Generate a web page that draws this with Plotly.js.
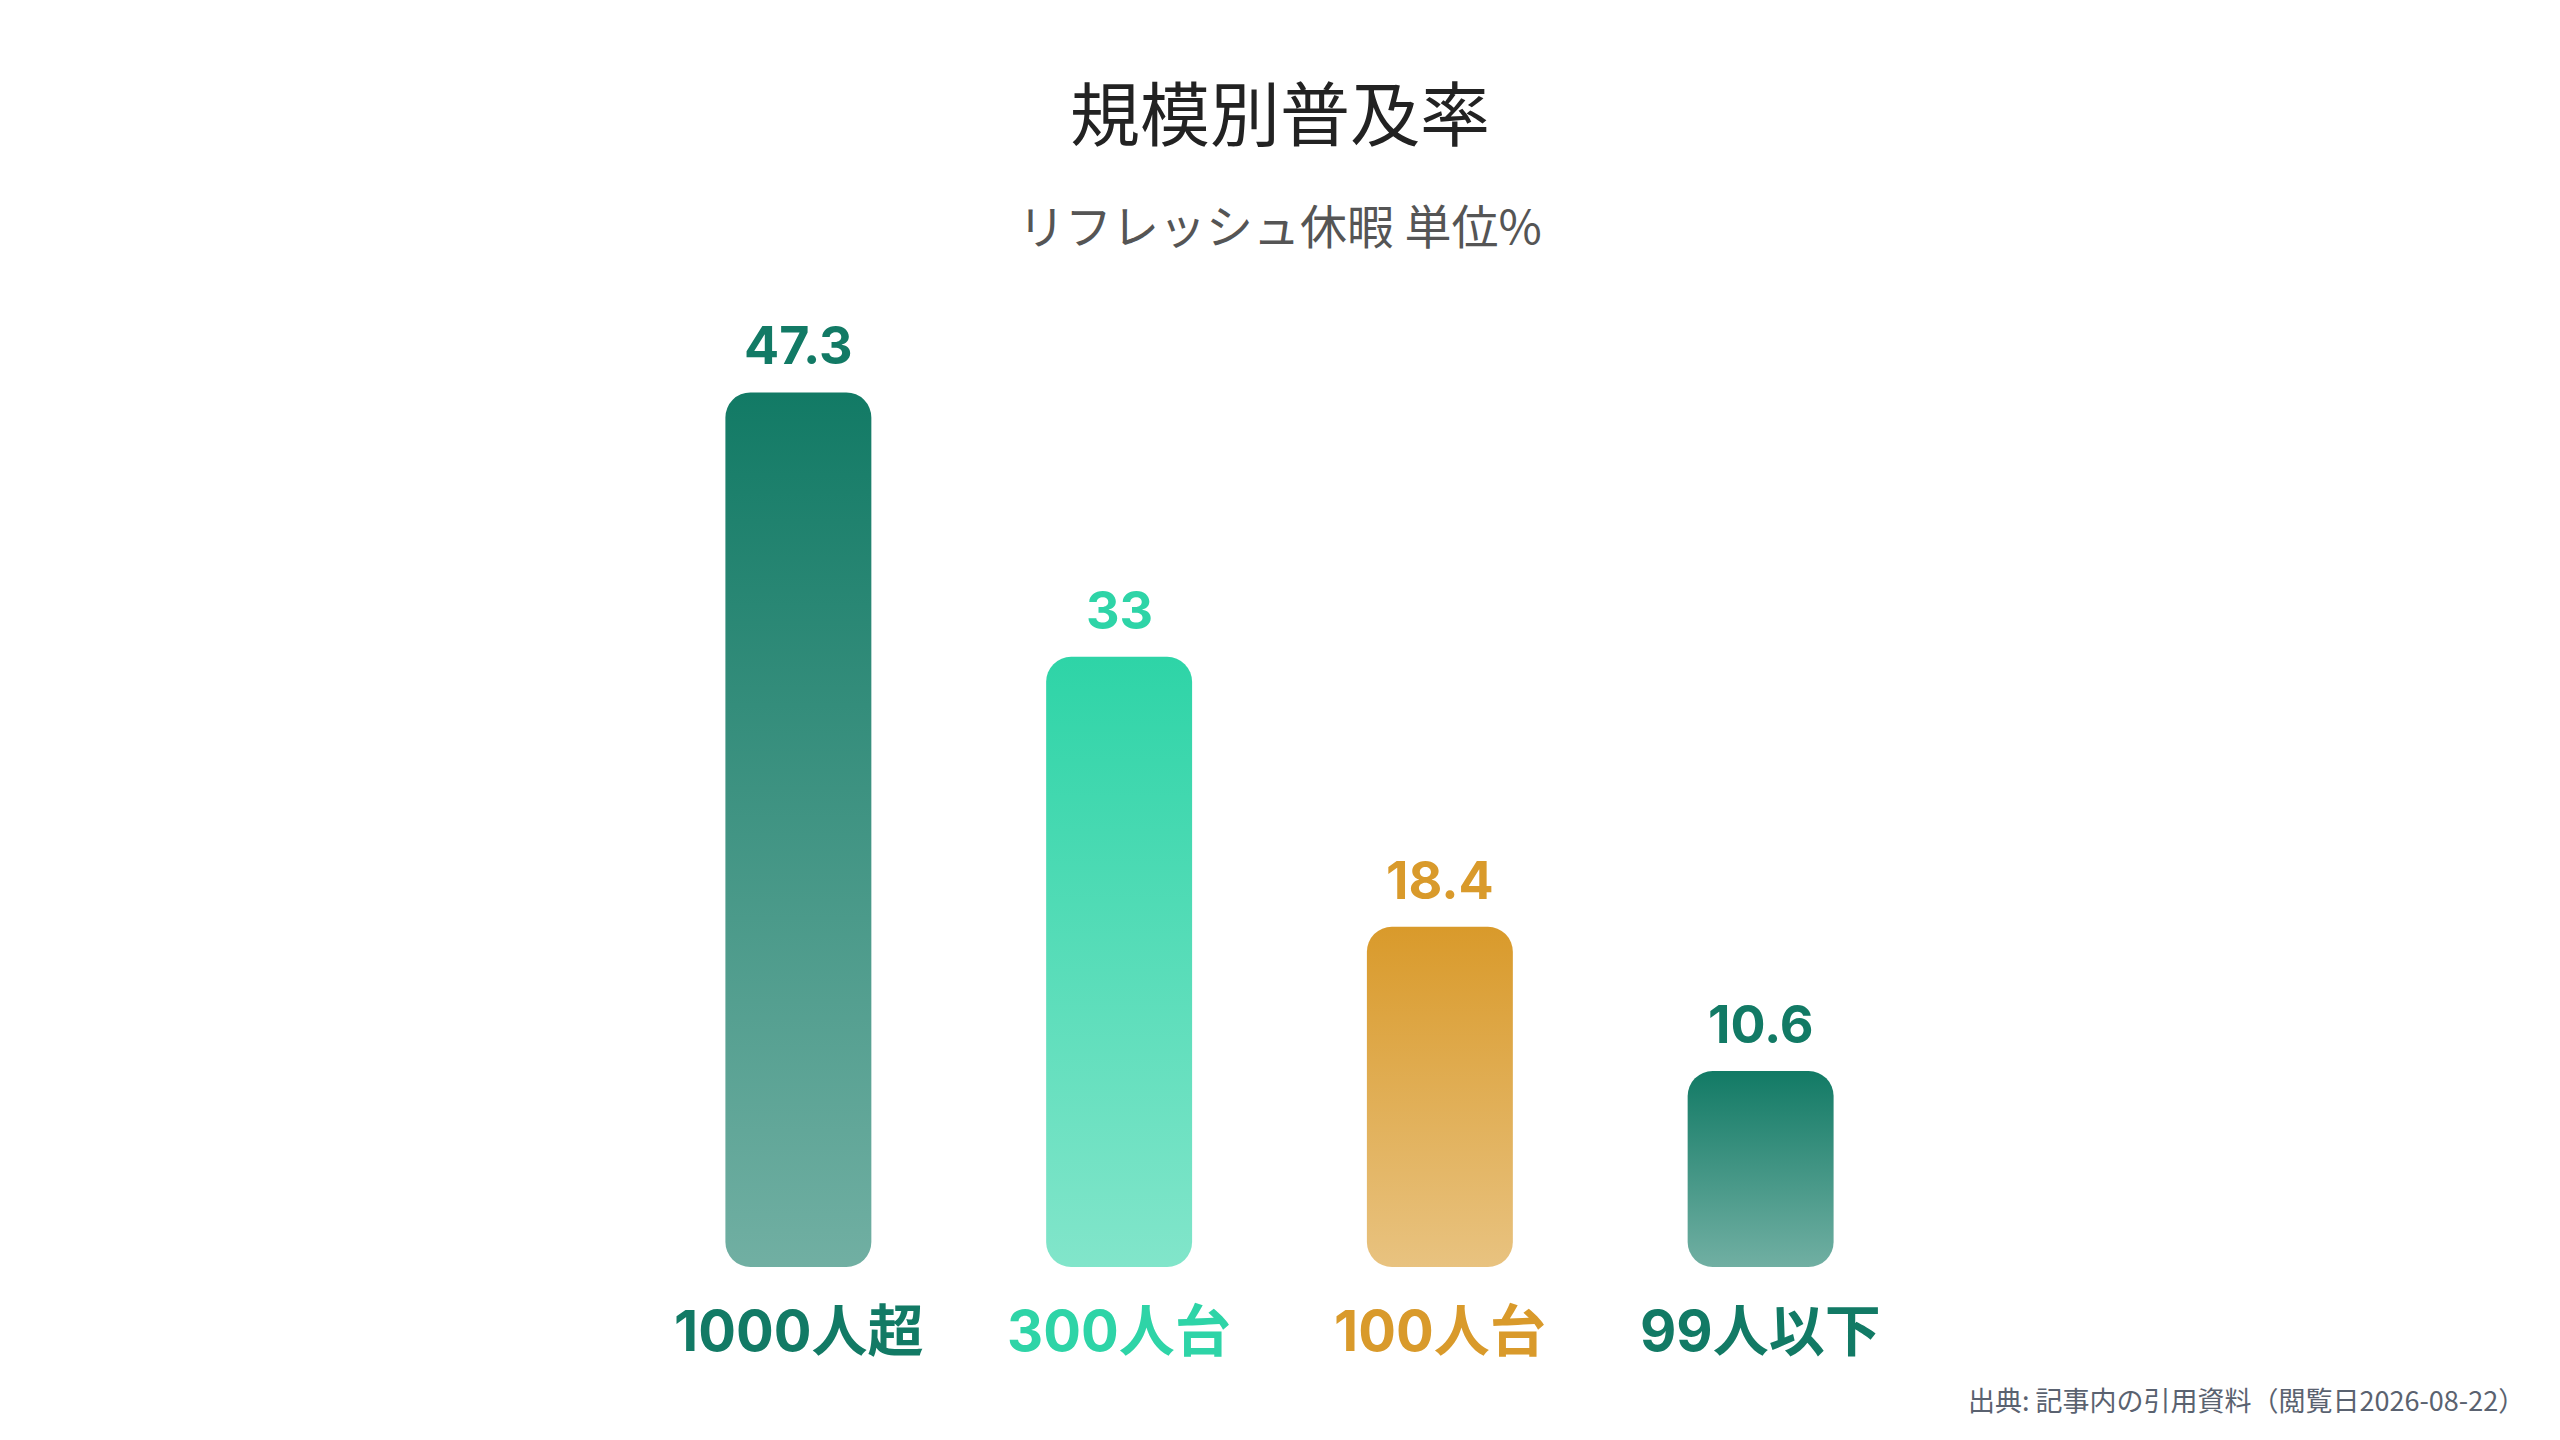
<!DOCTYPE html>
<html>
<head>
<meta charset="utf-8">
<script src="https://cdn.plot.ly/plotly-3.0.1.min.js"></script>
<style>
  html, body { margin: 0; padding: 0; background: #ffffff; }
  #chart { width: 2560px; height: 1440px; }
</style>
</head>
<body>
<div id="chart"></div>
<script>
// ---- data ----
const categories = ['1000人超', '300人台', '100人台', '99人以下'];
const values = [47.3, 33, 18.4, 10.6];
const valueLabels = ['47.3', '33', '18.4', '10.6'];
const barColors = ['#127A65', '#2ED4A7', '#D99A2B', '#127A65'];
const chartTitle = '規模別普及率';
const chartSubtitle = 'リフレッシュ休暇 単位%';
const sourceNote = '出典: 記事内の引用資料（閲覧日2026-08-22）';

const latinBold = 'Inter, "Noto Sans CJK JP", sans-serif';
const cjk = '"Noto Sans CJK JP", "Noto Sans", sans-serif';

const trace = {
  type: 'bar',
  x: categories,
  y: values,
  width: 0.455,
  marker: { color: barColors, cornerradius: 25, line: { width: 0 } },
  hoverinfo: 'skip',
  showlegend: false
};

const annotations = [];
categories.forEach((c, i) => {
  annotations.push({
    x: c, y: values[i], xref: 'x', yref: 'y',
    text: '<b>' + valueLabels[i] + '</b>',
    showarrow: false, yanchor: 'bottom', xanchor: 'center', yshift: 13,
    font: { family: latinBold, size: 52, color: barColors[i] }
  });
  annotations.push({
    x: c, y: 0, xref: 'x', yref: 'y',
    text: '<b>' + c + '</b>',
    showarrow: false, yanchor: 'top', xanchor: 'center', yshift: -28,
    font: { family: latinBold, size: 56, color: barColors[i] }
  });
});
annotations.push({
  x: 0.5, y: 1.085, xref: 'paper', yref: 'paper',
  text: chartSubtitle, showarrow: false, xanchor: 'center', yanchor: 'middle',
  font: { family: cjk, size: 47, color: '#555555' }
});
annotations.push({
  x: 1.472, y: -0.138, xref: 'paper', yref: 'paper',
  text: sourceNote, showarrow: false, xanchor: 'right', yanchor: 'middle',
  font: { family: cjk, size: 27, color: '#5A6270' }
});

const layout = {
  width: 2560, height: 1440,
  paper_bgcolor: '#ffffff', plot_bgcolor: '#ffffff',
  margin: { l: 638, r: 639, t: 305, b: 173, pad: 0 },
  title: {
    text: chartTitle,
    x: 0.5, xref: 'container', xanchor: 'center',
    y: 1 - 116 / 1440, yref: 'container', yanchor: 'middle',
    font: { family: cjk, size: 70, color: '#222222' }
  },
  xaxis: {
    type: 'category', range: [-0.5, 3.5],
    showticklabels: false, showgrid: false, zeroline: false, showline: false, ticks: ''
  },
  yaxis: {
    range: [0, 47.3 * 1.1], visible: false, showgrid: false, zeroline: false
  },
  annotations: annotations,
  showlegend: false
};

Plotly.newPlot('chart', [trace], layout, { displayModeBar: false, staticPlot: true }).then(gd => {
  const svg = gd.querySelector('svg.main-svg');
  let defs = svg.querySelector('defs');
  if (!defs) { defs = document.createElementNS('http://www.w3.org/2000/svg', 'defs'); svg.insertBefore(defs, svg.firstChild); }
  const NS = 'http://www.w3.org/2000/svg';
  barColors.forEach((c, i) => {
    const g = document.createElementNS(NS, 'linearGradient');
    g.setAttribute('id', 'barGrad' + i);
    g.setAttribute('x1', '0'); g.setAttribute('y1', '0');
    g.setAttribute('x2', '0'); g.setAttribute('y2', '1');
    const s1 = document.createElementNS(NS, 'stop');
    s1.setAttribute('offset', '0'); s1.setAttribute('stop-color', c); s1.setAttribute('stop-opacity', '1');
    const s2 = document.createElementNS(NS, 'stop');
    s2.setAttribute('offset', '1'); s2.setAttribute('stop-color', c); s2.setAttribute('stop-opacity', '0.6');
    g.appendChild(s1); g.appendChild(s2);
    defs.appendChild(g);
  });
  const paths = gd.querySelectorAll('.barlayer .point path');
  paths.forEach((p, i) => {
    const b = p.getBBox();
    const x = b.x, y = b.y, w = b.width, h = b.height;
    const r = Math.min(25, w / 2, h / 2);
    const d = `M${x + r},${y}H${x + w - r}A${r},${r} 0 0 1 ${x + w},${y + r}V${y + h - r}` +
      `A${r},${r} 0 0 1 ${x + w - r},${y + h}H${x + r}A${r},${r} 0 0 1 ${x},${y + h - r}` +
      `V${y + r}A${r},${r} 0 0 1 ${x + r},${y}Z`;
    p.setAttribute('d', d);
    p.style.fill = `url(#barGrad${i})`;
    p.style.fillOpacity = '1';
  });
});
</script>
</body>
</html>
